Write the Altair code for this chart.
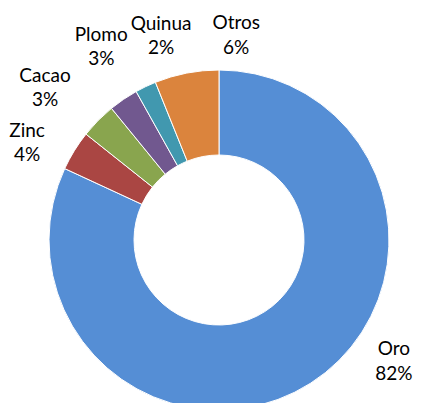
import math
import altair as alt
import pandas as pd

categories = ["Oro", "Zinc", "Cacao", "Plomo", "Quinua", "Otros"]
values = [81.9, 3.8, 3.4, 2.8, 2.0, 6.1]
pct_labels = ["82%", "4%", "3%", "3%", "2%", "6%"]
colors = ["#558ED5", "#AA4643", "#89A54E", "#71588F", "#4198AF", "#DB843D"]

# label placement style (angle nudge in degrees, distance from centre in px)
label_nudge = [-22.6, -4.9, -3.5, 2.8, 9.7, 15.8]
label_radius = [213, 215, 231, 226, 212, 205]

CX, CY = 211, 232
R_OUT, R_IN = 170, 85
LINE_H = 24.5

total = sum(values)
rows = []
cum = 0.0
for i, (c, v) in enumerate(zip(categories, values)):
    mid = (cum + v / 2) / total * 360 + label_nudge[i]
    cum += v
    a = math.radians(mid)
    rows.append({
        "cat": c, "value": v, "order": i,
        "label": f"{c}\n{pct_labels[i]}",
        "lx": CX + label_radius[i] * math.sin(a),
        "ly": CY - label_radius[i] * math.cos(a),
    })
df = pd.DataFrame(rows)

arcs = alt.Chart(df).mark_arc(
    outerRadius=R_OUT, innerRadius=R_IN, stroke="white", strokeWidth=1
).encode(
    theta=alt.Theta("value:Q", stack=True),
    order=alt.Order("order:Q"),
    color=alt.Color("cat:N", scale=alt.Scale(domain=categories, range=colors), legend=None),
    x=alt.value(CX),
    y=alt.value(CY),
)

labels = alt.Chart(df).mark_text(
    font="Lato", fontSize=19, fontWeight="normal", color="#000000",
    align="center", baseline="middle",
    lineBreak="\n", lineHeight=LINE_H, dy=-LINE_H / 2,
).encode(
    x=alt.X("lx:Q", scale=None),
    y=alt.Y("ly:Q", scale=None),
    text="label:N",
)

chart = alt.layer(arcs, labels).properties(
    width=405, height=395, autosize=alt.AutoSizeParams(type="none"), padding=0
).configure_view(stroke=None)

chart.save("out.html", embed_options={"renderer": "svg", "actions": False})
